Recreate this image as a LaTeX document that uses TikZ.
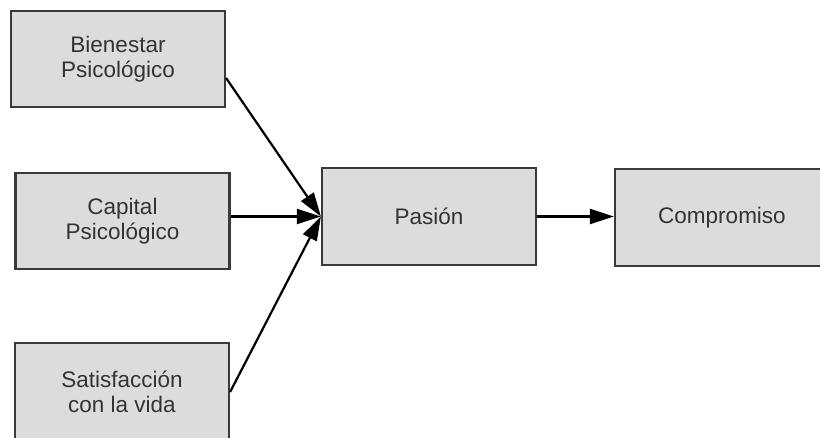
\documentclass[tikz,border=0pt]{standalone}
\usepackage{fontspec}
\setmainfont{Liberation Sans}
\usetikzlibrary{arrows.meta}
\definecolor{boxfill}{HTML}{DCDCDC}
\definecolor{boxline}{HTML}{3A3A3A}
\definecolor{txt}{HTML}{333333}
\tikzset{
  box/.style={draw=boxline, fill=boxfill, line width=2.2pt, minimum width=214pt, minimum height=96pt,
    inner sep=0pt, align=center, text=txt, font=\fontsize{22.5}{25.5}\selectfont},
  conn/.style={draw=black, line width=2.2pt, -{Triangle[length=24pt,width=15pt]}}
}
\begin{document}
\begin{tikzpicture}[x=1pt,y=-1pt]
\useasboundingbox (0,0) rectangle (820,438);
\clip (0,0) rectangle (820,438);
\fill[white] (0,0) rectangle (820,438);
\node[box] (B) at (118,59) {Bienestar\\Psicológico};
\node[box] (C) at (122.5,221) {Capital\\Psicológico};
\node[box, minimum height=98pt] (S) at (122,392) {Satisfacción\\con la vida};
\node[box, minimum height=97pt] (P) at (429,216.5) {Pasión};
\node[box, minimum height=97pt] (M) at (722,217.5) {Compromiso};
\draw[conn] ([yshift=-19pt]B.east) -- (P.west);
\draw[conn] (C.east |- P.west) -- (P.west);
\draw[conn] (S.east) -- (P.west);
\draw[conn] (P.east) -- (M.west |- P.east);
\end{tikzpicture}
\end{document}
